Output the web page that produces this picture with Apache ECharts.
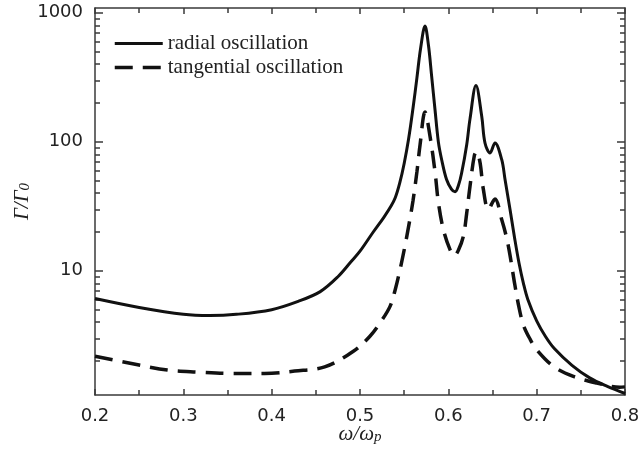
<!DOCTYPE html>
<html>
<head>
<meta charset="utf-8">
<script src="https://cdn.jsdelivr.net/npm/echarts@6/dist/echarts.min.js"></script>
<style>
  html, body { margin: 0; padding: 0; background: #fff; }
  #chart { width: 639px; height: 453px; }
</style>
</head>
<body>
<div id="chart"></div>
<script>
// radial oscillation (solid)
const radialX = [0.20, 0.25, 0.30, 0.33, 0.36, 0.40, 0.43, 0.455, 0.475, 0.49, 0.50, 0.515, 0.527, 0.535, 0.540, 0.545,
  0.550, 0.555, 0.560, 0.5645, 0.5685, 0.5736, 0.5775, 0.5811, 0.5849, 0.5887, 0.5924, 0.598, 0.6035, 0.6076, 0.6115, 0.615,
  0.6208, 0.6245, 0.6313, 0.6378, 0.6415, 0.6472, 0.6528, 0.6604, 0.6642, 0.6698, 0.675, 0.680, 0.685, 0.690, 0.700,
  0.710, 0.720, 0.740, 0.760, 0.780, 0.800];
const radialY = [6.1, 5.2, 4.6, 4.5, 4.6, 5.0, 5.8, 6.9, 9.0, 11.8, 14.2, 20, 26, 31.6, 37, 48,
  68, 105, 182, 316, 525, 790, 560, 323, 178, 100, 73, 51, 43, 41, 46, 57,
  95, 150, 273, 158, 98, 82, 98, 73, 51, 30, 18, 11.5, 8.0, 6.0, 4.1,
  3.1, 2.5, 1.85, 1.48, 1.27, 1.12];

// tangential oscillation (dashed)
const tangX = [0.20, 0.247, 0.282, 0.317, 0.355, 0.392, 0.426, 0.46, 0.4925, 0.511, 0.5227, 0.534, 0.540, 0.545,
  0.550, 0.555, 0.560, 0.5645, 0.568, 0.5736, 0.5793, 0.585, 0.5887, 0.5943, 0.6019, 0.6068, 0.6115, 0.617,
  0.6208, 0.6245, 0.6294, 0.632, 0.6359, 0.6396, 0.6453, 0.6528, 0.6604, 0.666, 0.670, 0.675, 0.680, 0.685, 0.692, 0.700,
  0.719, 0.7415, 0.768, 0.794, 0.800];
const tangY = [2.18, 1.88, 1.70, 1.64, 1.60, 1.60, 1.67, 1.80, 2.38, 3.1, 3.95, 5.3, 7.2, 10,
  14.5, 22, 35, 59, 95, 170, 110, 58, 34, 21, 14.6, 13.1, 14.5, 18.5,
  28, 45, 78, 84, 69, 43, 30, 36, 25, 18, 13, 8, 5.2, 3.8, 3.0, 2.45,
  1.82, 1.52, 1.35, 1.25, 1.26];

const seriesNames = ['radial oscillation', 'tangential oscillation'];
const xTicks = [0.2, 0.3, 0.4, 0.5, 0.6, 0.7, 0.8];
const xTickLabels = ['0.2', '0.3', '0.4', '0.5', '0.6', '0.7', '0.8'];
const yMajor = [10, 100, 1000];
const yTickLabels = ['10', '100', '1000'];
const yMinor = [2, 3, 4, 5, 6, 7, 8, 9, 20, 30, 40, 50, 60, 70, 80, 90, 200, 300, 400, 500, 600, 700, 800, 900];
const yMin = 1.09, yMax = 1090;

const axisColor = '#3a3a3a';
const textColor = '#222';
const dash = [18, 10];

const chart = echarts.init(document.getElementById('chart'));

const tickStyle = { color: axisColor, width: 1.5 };

// log axes: one for the frame line + major ticks, one for the minor ticks (left and right)
const logAxis = (extra) => Object.assign({
  type: 'log',
  logBase: 10,
  min: yMin,
  max: yMax,
  splitLine: { show: false },
  axisLine: { show: false, lineStyle: tickStyle },
  axisTick: { show: false },
  axisLabel: { show: false },
}, extra);

const xAxisBase = {
  type: 'value',
  min: 0.2,
  max: 0.8,
  interval: 0.1,
  axisLine: { show: true, onZero: false, lineStyle: tickStyle },
  axisTick: { show: true, inside: true, length: 6, lineStyle: tickStyle },
  minorTick: { show: true, splitNumber: 2, length: 5, lineStyle: tickStyle },
  splitLine: { show: false },
  minorSplitLine: { show: false },
};

const nameRich = {
  i: { fontFamily: 'Liberation Serif', fontStyle: 'italic', fontSize: 21, color: textColor },
  s: { fontFamily: 'Liberation Serif', fontStyle: 'italic', fontSize: 15, color: textColor, verticalAlign: 'bottom', padding: [6, 0, 0, 0] },
};

chart.setOption({
  animation: false,
  backgroundColor: '#fff',
  grid: { left: 95, right: 14, top: 8, bottom: 58, outerBoundsMode: 'none', containLabel: false },
  legend: {
    orient: 'vertical',
    left: 108,
    top: 28,
    itemWidth: 48,
    itemHeight: 14,
    itemGap: 3,
    itemStyle: { opacity: 0 },
    data: [
      { name: seriesNames[0], lineStyle: { color: '#111', width: 3, type: 'solid' } },
      { name: seriesNames[1], lineStyle: { color: '#111', width: 3.5, type: dash } },
    ],
    textStyle: { fontFamily: 'Liberation Serif', fontSize: 21, color: textColor },
  },
  xAxis: [
    Object.assign({}, xAxisBase, {
      position: 'bottom',
      axisLabel: {
        margin: 12,
        fontFamily: 'DejaVu Sans',
        fontSize: 18,
        color: textColor,
        formatter: (v) => {
          const i = xTicks.findIndex(t => Math.abs(t - v) < 1e-6);
          return i >= 0 ? xTickLabels[i] : '';
        },
      },
      name: '{i|ω/ω}{s|p}',
      nameLocation: 'middle',
      nameGap: 29,
      nameMoveOverlap: false,
      nameTextStyle: { rich: nameRich },
    }),
    Object.assign({}, xAxisBase, {
      position: 'top',
      axisLabel: { show: false },
    }),
  ],
  yAxis: [
    logAxis({
      position: 'left',
      axisLine: { show: true, onZero: false, lineStyle: tickStyle },
      axisTick: { show: true, inside: true, length: 8, customValues: yMajor, lineStyle: tickStyle },
      axisLabel: {
        show: true,
        margin: 12,
        customValues: yMajor,
        fontFamily: 'DejaVu Sans',
        fontSize: 18,
        color: textColor,
        formatter: (v) => {
          const i = yMajor.findIndex(t => Math.abs(t - v) / t < 1e-6);
          return i >= 0 ? yTickLabels[i] : '';
        },
      },
      name: '{i|Γ/Γ}{s|0}',
      nameLocation: 'middle',
      nameGap: 62,
      nameRotate: 90,
      nameMoveOverlap: false,
      nameTextStyle: { rich: nameRich },
    }),
    logAxis({
      position: 'left',
      axisTick: { show: true, inside: true, length: 5, customValues: yMinor, lineStyle: tickStyle },
    }),
    logAxis({
      position: 'right',
      axisLine: { show: true, onZero: false, lineStyle: tickStyle },
      axisTick: { show: true, inside: true, length: 8, customValues: yMajor, lineStyle: tickStyle },
    }),
    logAxis({
      position: 'right',
      axisTick: { show: true, inside: true, length: 5, customValues: yMinor, lineStyle: tickStyle },
    }),
  ],
  series: [
    {
      name: seriesNames[0],
      type: 'line',
      xAxisIndex: 0,
      yAxisIndex: 0,
      data: radialX.map((x, i) => [x, radialY[i]]),
      symbol: 'none',
      smooth: 0.35,
      lineStyle: { color: '#111', width: 3 },
      itemStyle: { color: '#111' },
    },
    {
      name: seriesNames[1],
      type: 'line',
      xAxisIndex: 0,
      yAxisIndex: 0,
      data: tangX.map((x, i) => [x, tangY[i]]),
      symbol: 'none',
      smooth: 0.35,
      lineStyle: { color: '#111', width: 3.5, type: dash },
      itemStyle: { color: '#111' },
    },
  ],
});
</script>
</body>
</html>
